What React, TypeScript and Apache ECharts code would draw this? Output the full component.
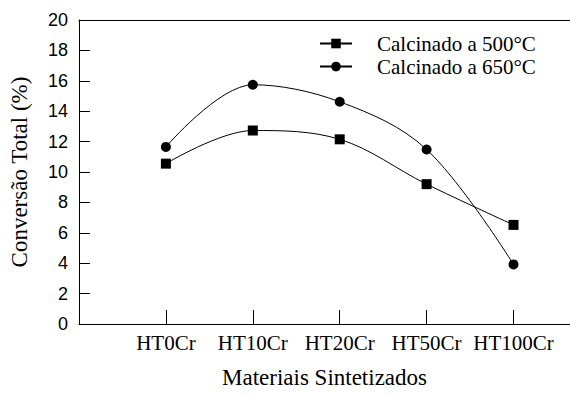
import React, { useEffect, useRef } from "react";
import * as echarts from "echarts";

const categories = ["HT0Cr", "HT10Cr", "HT20Cr", "HT50Cr", "HT100Cr"];
const series500 = [10.55, 12.73, 12.15, 9.2, 6.52];
const series650 = [11.65, 15.74, 14.62, 11.48, 3.92];
const seriesNames = ["Calcinado a 500°C", "Calcinado a 650°C"];
const yTicks = { min: 0, max: 20, interval: 2 };

const serif = "Liberation Serif";
const sans = "Liberation Sans";

export default function App() {
  const ref = useRef<HTMLDivElement>(null);
  useEffect(() => {
    if (!ref.current) return;
    const chart = echarts.init(ref.current, null, { renderer: "svg" });
    const toPairs = (arr: number[]) => arr.map((v, i) => [i + 1, v]);
    chart.setOption({
      animation: false,
      backgroundColor: "#fff",
      grid: { left: 78, top: 20, right: 0, bottom: 64, containLabel: false },
      legend: {
        left: 319,
        top: 33,
        orient: "vertical",
        itemWidth: 32,
        itemHeight: 12,
        itemGap: 2,
        padding: 0,
        data: seriesNames,
        textStyle: {
          fontFamily: serif,
          fontSize: 21,
          color: "#000",
          lineHeight: 18,
          padding: [0, 0, 0, 20],
        },
      },
      xAxis: [
        {
          type: "value",
          min: 0,
          max: 5.65,
          interval: 1,
          position: "bottom",
          name: "Materiais Sintetizados",
          nameLocation: "middle",
          nameGap: 42,
          nameTextStyle: { fontFamily: serif, fontSize: 23, color: "#000" },
          axisLine: { show: true, lineStyle: { color: "#000", width: 1 } },
          axisTick: { show: true, inside: true, length: 14, lineStyle: { color: "#000" } },
          axisLabel: {
            fontFamily: serif,
            fontSize: 21,
            color: "#000",
            margin: 8,
            showMaxLabel: false,
            formatter: (v: number) => (v >= 1 && v <= categories.length && Number.isInteger(v) ? categories[v - 1] : ""),
          },
          splitLine: { show: false },
        },
        {
          type: "value",
          min: 0,
          max: 5.65,
          position: "top",
          axisLine: { show: true, onZero: false, lineStyle: { color: "#000", width: 1 } },
          axisTick: { show: false },
          axisLabel: { show: false },
          splitLine: { show: false },
        },
      ],
      yAxis: {
        type: "value",
        min: yTicks.min,
        max: yTicks.max,
        interval: yTicks.interval,
        name: "Conversão Total (%)",
        nameLocation: "middle",
        nameGap: 48,
        nameTextStyle: { fontFamily: serif, fontSize: 23, color: "#000" },
        axisLine: { show: true, lineStyle: { color: "#000", width: 1 } },
        axisTick: { show: true, inside: true, length: 11, lineStyle: { color: "#000" } },
        axisLabel: { fontFamily: sans, fontSize: 18, color: "#000", margin: 11 },
        splitLine: { show: false },
      },
      series: [
        {
          name: seriesNames[0],
          type: "line",
          xAxisIndex: 0,
          data: toPairs(series500),
          smooth: 0.35,
          symbol: "rect",
          symbolSize: 10,
          lineStyle: { color: "#000", width: 1 },
          itemStyle: { color: "#000" },
        },
        {
          name: seriesNames[1],
          type: "line",
          xAxisIndex: 0,
          data: toPairs(series650),
          smooth: 0.35,
          symbol: "circle",
          symbolSize: 10,
          lineStyle: { color: "#000", width: 1 },
          itemStyle: { color: "#000" },
        },
      ],
    });
    return () => chart.dispose();
  }, []);
  return <div ref={ref} style={{ width: 570, height: 394, position: "fixed", left: 0, top: 0 }} />;
}
